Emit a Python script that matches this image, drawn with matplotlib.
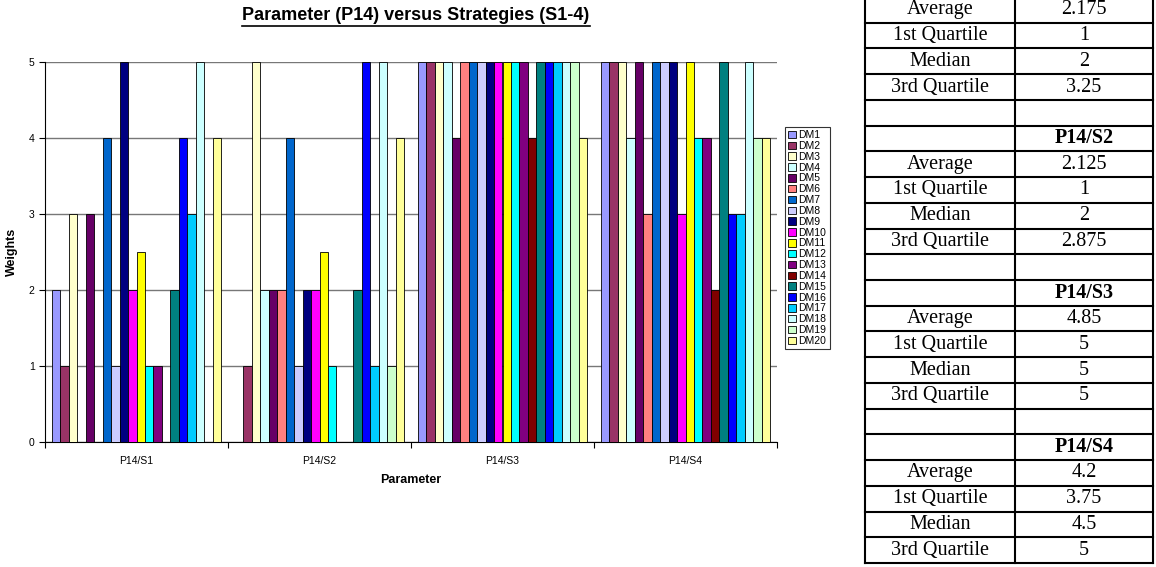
import numpy as np
import matplotlib
matplotlib.use('Agg')
import matplotlib.pyplot as plt
from matplotlib.patches import Patch

# data
groups = ['P14/S1', 'P14/S2', 'P14/S3', 'P14/S4']
dm_names = ['DM%d' % i for i in range(1, 21)]
weights = [
    [2, 0, 5, 5],    # DM1
    [1, 1, 5, 5],    # DM2
    [3, 5, 5, 5],    # DM3
    [0, 2, 5, 4],    # DM4
    [3, 2, 4, 5],    # DM5
    [0, 2, 5, 3],    # DM6
    [4, 4, 5, 5],    # DM7
    [1, 1, 5, 5],    # DM8
    [5, 2, 5, 5],    # DM9
    [2, 2, 5, 3],    # DM10
    [2.5, 2.5, 5, 5],  # DM11
    [1, 1, 5, 4],    # DM12
    [1, 0, 5, 4],    # DM13
    [0, 0, 4, 2],    # DM14
    [2, 2, 5, 5],    # DM15
    [4, 5, 5, 3],    # DM16
    [3, 1, 5, 3],    # DM17
    [5, 5, 5, 5],    # DM18
    [0, 1, 5, 4],    # DM19
    [4, 4, 4, 4],    # DM20
]
colors = ['#9999FF', '#993366', '#FFFFCC', '#CCFFFF', '#660066', '#FF8080',
          '#0066CC', '#CCCCFF', '#000080', '#FF00FF', '#FFFF00', '#00FFFF',
          '#800080', '#800000', '#008080', '#0000FF', '#00CCFF', '#CCFFFF',
          '#CCFFCC', '#FFFF99']

# summary table on the right
stat_names = ['Average', '1st Quartile', 'Median', '3rd Quartile']
avg = ['2.175', '2.125', '4.85', '4.2']
q1 = ['1', '1', '5', '3.75']
med = ['2', '2', '5', '4.5']
q3 = ['3.25', '2.875', '5', '5']

W, H = 1156, 567
fig = plt.figure(figsize=(W / 100, H / 100), dpi=100)

# chart
ax = fig.add_axes([45 / W, 1 - 442 / H, (777 - 45) / W, (442 - 62) / H])
x = np.arange(len(groups))
bw = 0.0464
for i, name in enumerate(dm_names):
    ax.bar(x + (i - 9.5) * bw, weights[i], bw, color=colors[i],
           edgecolor='black', linewidth=0.6, label=name, zorder=3)

ax.set_xlim(-0.5, 3.5)
ax.set_ylim(0, 5)
ax.set_yticks(range(6))
ax.yaxis.grid(True, color='#777777', linewidth=1.0, zorder=0)
ax.set_axisbelow(True)
ax.spines['top'].set_visible(False)
ax.spines['right'].set_visible(False)
ax.tick_params(axis='y', direction='out', length=4, labelsize=7.5, width=0.8)
ax.set_xticks(x)
ax.set_xticklabels(groups, fontsize=7.5)
ax.tick_params(axis='x', which='major', length=0, pad=10)
ax.set_xticks(np.arange(-0.5, 4, 1), minor=True)
ax.tick_params(axis='x', which='minor', direction='out', length=4, width=0.8)

fig.text(12 / W, 1 - 252 / H, 'Weights', rotation=90, ha='center', va='center',
         fontsize=9, fontweight='bold', family='Liberation Sans')
fig.text(411 / W, 1 - 480 / H, 'Parameter', ha='center', va='center',
         fontsize=9, fontweight='bold', family='Liberation Sans')
title = fig.text(416 / W, 1 - 16 / H, 'Parameter (P14) versus Strategies (S1-4)',
                 ha='center', va='center', fontsize=13, fontweight='bold',
                 family='Liberation Sans')
for t in ax.get_xticklabels() + ax.get_yticklabels():
    t.set_family('Liberation Sans')

# legend
handles = [Patch(facecolor=c, edgecolor='black', linewidth=0.6) for c in colors]
leg = fig.legend(handles, dm_names, loc='upper left',
                 bbox_to_anchor=(785 / W, 1 - 127 / H),
                 frameon=True, fancybox=False, edgecolor='black',
                 handlelength=0.75, handleheight=0.75, handletextpad=0.25,
                 labelspacing=0.08, borderpad=0.3, borderaxespad=0,
                 prop={'family': 'Liberation Sans', 'size': 7.5})
leg.get_frame().set_linewidth(0.8)

# overlay axes in pixel coordinates for the table and title underline
ov = fig.add_axes([0, 0, 1, 1])
ov.set_xlim(0, W)
ov.set_ylim(H, 0)
ov.axis('off')
ov.patch.set_alpha(0)

fig.canvas.draw()
bb = title.get_window_extent()
ov.plot([bb.x0, bb.x1], [H - bb.y0 + 1, H - bb.y0 + 1], color='black', lw=1.2)

xl, xm, xr = 865, 1015, 1153
rh = 25.73
y_first = 22.7 - rh
rows = []
for j in range(4):
    if j > 0:
        rows.append(('', ''))
        rows.append(('', groups[j]))
    vals = [avg[j], q1[j], med[j], q3[j]]
    for name, v in zip(stat_names, vals):
        rows.append((name, v))

for k, (left, right) in enumerate(rows):
    yt = y_first + k * rh
    yc = yt + rh / 2
    ov.plot([xl, xr], [yt, yt], color='black', lw=1.5)
    header = left == '' and right != ''
    if left:
        ov.text((xl + xm) / 2, yc, left, ha='center', va='center',
                family='Liberation Serif', fontsize=14.5)
    if right:
        ov.text((xm + xr) / 2, yc, right, ha='center', va='center',
                family='Liberation Serif', fontsize=14.5,
                fontweight='bold' if header else 'normal')
y_end = y_first + len(rows) * rh
ov.plot([xl, xr], [y_end, y_end], color='black', lw=1.5)
for xv in (xl, xm, xr):
    ov.plot([xv, xv], [y_first, y_end], color='black', lw=1.5)

fig.savefig('out.png', dpi=100)
